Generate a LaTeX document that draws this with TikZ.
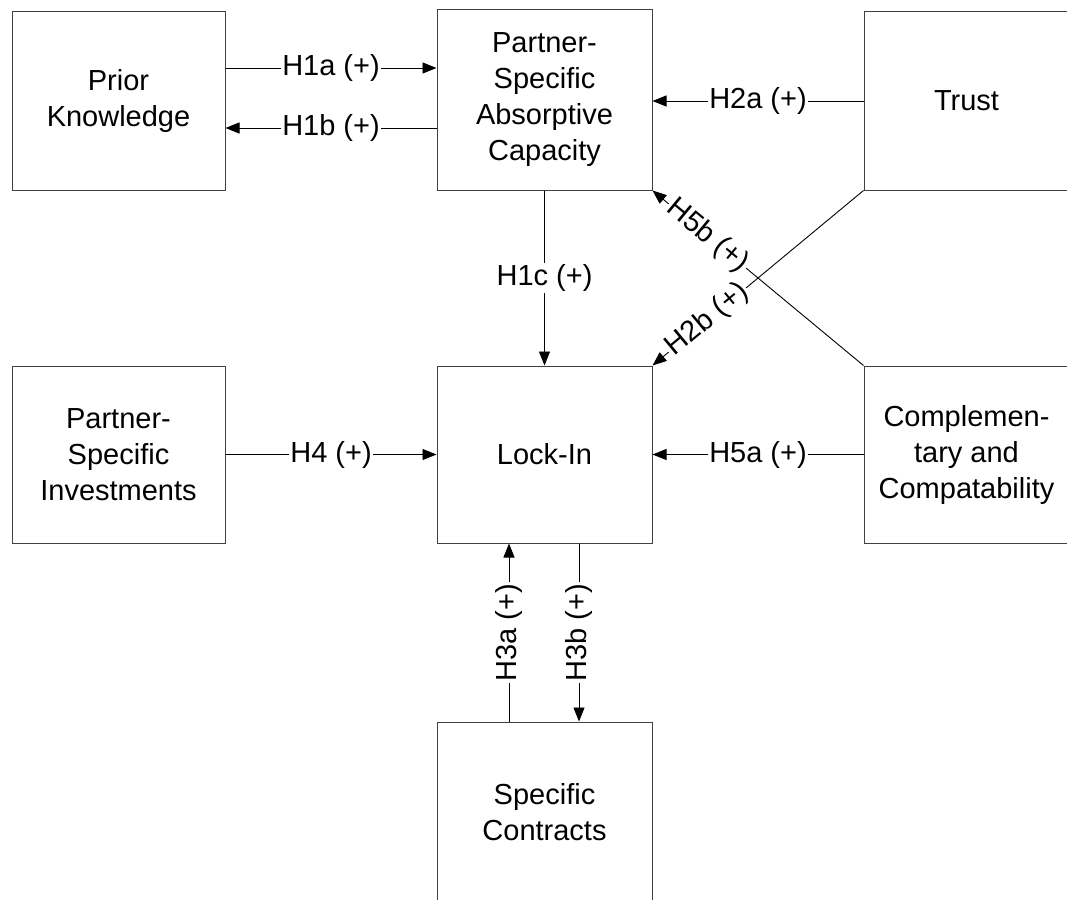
\documentclass[tikz,border=0pt]{standalone}
\usepackage{fontspec}
\setmainfont{Liberation Sans}
\usetikzlibrary{arrows.meta}
\begin{document}
\begin{tikzpicture}[x=1pt,y=-1pt,
  box/.style={draw=black!75, line width=1pt, align=center, inner sep=0pt,
    minimum width=213pt, minimum height=178pt, font=\fontsize{29}{36}\selectfont},
  conn/.style={line width=0.9pt, draw=black},
  arr/.style={conn, -{Triangle[length=14pt,width=11pt]}},
  lbl/.style={fill=white, inner sep=1.5pt, font=\fontsize{29}{36}\selectfont}]
\useasboundingbox (0,0) rectangle (1067,899);
\clip (0,0) rectangle (1067,899);
% boxes
\node[box] (PK) at (118.5,101) {Prior\\Knowledge};
\node[box, minimum width=215pt, minimum height=180pt] (PSAC) at (544.5,100) {Partner-\\Specific\\Absorptive\\Capacity};
\node[box, minimum width=205pt] (Trust) at (966.5,101) {Trust};
\node[box, minimum height=177pt] (PSI) at (118.5,454.5) {Partner-\\Specific\\Investments};
\node[box, minimum width=215pt, minimum height=177pt] (LockIn) at (544.5,454.5) {Lock-In};
\node[box, minimum width=205pt, minimum height=177pt] (Comp) at (966.5,454.5) {Complemen-\\tary and\\Compatability};
\node[box, minimum width=215pt, minimum height=180pt] (SC) at (544.5,812) {Specific\\Contracts};
% connectors
\coordinate (h1a) at ([yshift=33pt]PK.east);
\coordinate (h1b) at ([yshift=-28pt]PSAC.west);
\draw[arr] (h1a) -- (h1a -| PSAC.west) node[lbl, midway] {H1a (+)};
\draw[arr] (h1b) -- (h1b -| PK.east) node[lbl, midway] {H1b (+)};
\draw[arr] (Trust.west) -- (Trust.west -| PSAC.east) node[lbl, midway] {H2a (+)};
\draw[arr] (PSAC.south) -- (LockIn.north) node[lbl, midway] {H1c (+)};
\draw[arr] (PSI.east) -- (LockIn.west) node[lbl, midway] {H4 (+)};
\draw[arr] (Comp.west) -- (LockIn.east) node[lbl, midway] {H5a (+)};
\coordinate (h3a) at ([xshift=-35.5pt]SC.north);
\coordinate (h3b) at ([xshift=34.5pt]LockIn.south);
\draw[arr] (h3a) -- (h3a |- LockIn.south) node[lbl, midway, rotate=90] {H3a (+)};
\draw[arr] (h3b) -- (h3b |- SC.north) node[lbl, midway, rotate=90] {H3b (+)};
\draw[arr] (Trust.south west) -- (LockIn.north east) node[lbl, pos=0.74, sloped] {H2b (+)};
\draw[arr] (Comp.north west) -- (PSAC.south east) node[lbl, pos=0.74, sloped] {H5b (+)};
\end{tikzpicture}
\end{document}
